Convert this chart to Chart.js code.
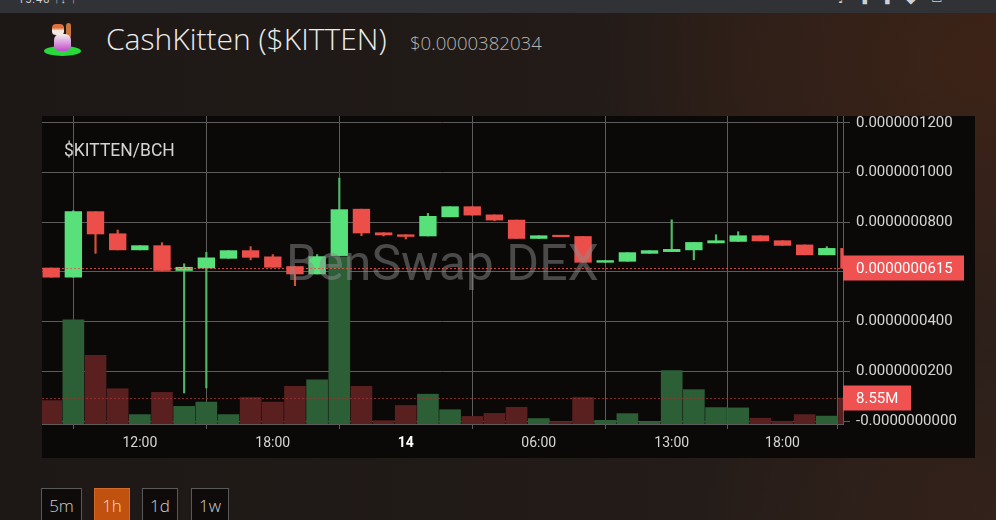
<!DOCTYPE html>
<html>
<head>
<meta charset="utf-8">
<title>CashKitten ($KITTEN)</title>
<script src="https://cdn.jsdelivr.net/npm/chart.js@4.4.1/dist/chart.umd.min.js"></script>
<style>
    html, body { margin: 0; padding: 0; width: 996px; height: 520px; overflow: hidden; }
    body {
        position: relative;
        font-family: 'Open Sans', 'Lato', sans-serif;
        background: radial-gradient(ellipse 420px 300px at 1000px 60px, #3d2317 0%, rgba(61,35,23,0) 100%),
                    radial-gradient(ellipse 300px 200px at 1000px 520px, #33211a 0%, rgba(51,33,26,0) 100%),
                    linear-gradient(90deg, #1d1816 0%, #221b18 60%, #2b1f1a 100%);
    }
    .status { position: absolute; left: 0; top: 0; width: 996px; height: 13px; background: #303236; overflow: hidden; }
    .status .time { position: absolute; left: 18px; top: -7px; font: 11px Roboto, sans-serif; color: #d0d0d0; letter-spacing: 1px; }
    .status .icons { position: absolute; left: 838px; top: -8px; font: 12px 'DejaVu Sans', sans-serif; color: #d0d0d0; letter-spacing: 6px; }
    .logo { position: absolute; left: 42px; top: 20px; width: 40px; height: 40px; }
    .logo .pad { position: absolute; left: 2px; top: 26px; width: 37px; height: 10px; border-radius: 50%; background: #27d93a; }
    .logo .tail { position: absolute; left: 24px; top: 3px; width: 5px; height: 15px; border-radius: 3px; background: #c8743a; }
    .logo .body { position: absolute; left: 12px; top: 14px; width: 17px; height: 17px; border-radius: 35% 35% 30% 30%; background: linear-gradient(#f4eef2, #c24ccb); }
    .logo .head { position: absolute; left: 10px; top: 4px; width: 12px; height: 11px; border-radius: 35%; background: linear-gradient(#e0703a 0%, #e0703a 35%, #f3e9e2 60%); }
    .title { position: absolute; left: 106px; top: 23px; font-size: 30px; line-height: 32px; font-weight: 300; color: #ececec; white-space: nowrap; }
    .price { position: absolute; left: 410px; top: 33px; font-size: 18.6px; line-height: 20px; font-weight: 300; color: #b4b4b4; white-space: nowrap; }
    .panel { position: absolute; left: 42px; top: 116px; width: 933px; height: 342px; background: #0b0908; }
    #chart { position: absolute; left: 42px; top: 108px; }
    .pair { position: absolute; left: 64px; top: 140px; font: 17.5px Roboto, sans-serif; color: #d4d4d4; }
    .btn { position: absolute; top: 488px; height: 40px; box-sizing: border-box; border: 1px solid #595959; background: #0e0b0a;
           color: #cfcfcf; font-size: 17px; font-weight: 300; line-height: 34px; text-align: center; }
    .btn.on { background: #c1510f; border-color: #cf6a2a; color: #f3dccd; }
</style>
</head>
<body>
<div class="status"><span class="time">15:48 ↑↓ ↑</span><span class="icons">♪ ▮ ▮ ◆ ▭</span></div>
<div class="logo"><div class="pad"></div><div class="tail"></div><div class="body"></div><div class="head"></div></div>
<div class="title">CashKitten ($KITTEN)</div>
<div class="price">$0.0000382034</div>
<div class="panel"></div>
<canvas id="chart" width="933" height="350"></canvas>
<div class="pair">$KITTEN/BCH</div>
<div class="btn" style="left:41px;width:41px;">5m</div>
<div class="btn on" style="left:94px;width:36px;">1h</div>
<div class="btn" style="left:142px;width:36px;">1d</div>
<div class="btn" style="left:191px;width:38px;">1w</div>

<script>
// Hourly candles (one hour without trades between 06:00 and 13:00)
const times = ['08:00', '09:00', '10:00', '11:00', '12:00', '13:00', '14:00', '15:00', '16:00', '17:00',
    '18:00', '19:00', '20:00', '21:00', '22:00', '23:00', '00:00', '01:00', '02:00', '03:00',
    '04:00', '05:00', '06:00', '08:00', '09:00', '10:00', '11:00', '12:00', '13:00', '14:00',
    '15:00', '16:00', '17:00', '18:00', '19:00', '20:00', '21:00'];

const open = [61.6e-9, 57.9e-9, 84.3e-9, 75.4e-9, 68.9e-9, 70.6e-9, 60.6e-9, 61.6e-9, 65.5e-9, 68.6e-9,
    66.1e-9, 62.2e-9, 59.2e-9, 66.6e-9, 85.3e-9, 75.8e-9, 75.0e-9, 74.5e-9, 82.2e-9, 86.3e-9,
    83.0e-9, 80.9e-9, 73.5e-9, 74.6e-9, 74.3e-9, 63.9e-9, 64.3e-9, 67.5e-9, 68.2e-9, 68.9e-9,
    71.7e-9, 72.3e-9, 74.6e-9, 72.6e-9, 70.9e-9, 66.9e-9, 69.5e-9];
const high = [61.6e-9, 84.7e-9, 84.3e-9, 76.9e-9, 70.6e-9, 71.8e-9, 63.3e-9, 67.9e-9, 68.6e-9, 70.2e-9,
    67.0e-9, 62.2e-9, 67.0e-9, 97.8e-9, 85.3e-9, 75.8e-9, 75.0e-9, 83.6e-9, 86.3e-9, 86.3e-9,
    83.0e-9, 80.9e-9, 74.6e-9, 74.6e-9, 74.3e-9, 64.6e-9, 67.8e-9, 68.6e-9, 81.0e-9, 71.9e-9,
    75.0e-9, 76.2e-9, 74.6e-9, 72.6e-9, 70.9e-9, 70.2e-9, 69.5e-9];
const low = [57.9e-9, 57.9e-9, 67.5e-9, 68.9e-9, 68.9e-9, 60.6e-9, 11.3e-9, 13.3e-9, 65.5e-9, 64.9e-9,
    61.9e-9, 54.5e-9, 59.2e-9, 66.6e-9, 74.6e-9, 74.5e-9, 73.3e-9, 74.5e-9, 82.2e-9, 82.9e-9,
    80.6e-9, 73.5e-9, 73.5e-9, 74.2e-9, 63.9e-9, 63.9e-9, 64.3e-9, 67.5e-9, 68.2e-9, 64.9e-9,
    71.7e-9, 72.3e-9, 72.5e-9, 70.7e-9, 66.9e-9, 66.9e-9, 61.5e-9];
const close = [57.9e-9, 84.3e-9, 75.3e-9, 68.9e-9, 70.6e-9, 60.6e-9, 61.9e-9, 65.7e-9, 68.6e-9, 65.9e-9,
    61.9e-9, 59.2e-9, 66.2e-9, 85.1e-9, 75.7e-9, 74.9e-9, 74.3e-9, 82.4e-9, 86.3e-9, 82.9e-9,
    80.9e-9, 73.5e-9, 74.6e-9, 74.2e-9, 63.9e-9, 64.6e-9, 67.8e-9, 68.6e-9, 69.1e-9, 71.9e-9,
    72.6e-9, 74.6e-9, 72.5e-9, 70.7e-9, 66.9e-9, 69.5e-9, 61.5e-9];
const volume = [7.7e6, 34.3e6, 22.6e6, 11.6e6, 3.1e6, 10.4e6, 5.8e6, 7.2e6, 3.1e6, 8.7e6,
    7.2e6, 12.4e6, 14.5e6, 55.0e6, 12.4e6, 1.1e6, 6.1e6, 9.8e6, 4.7e6, 2.5e6,
    3.5e6, 5.5e6, 1.8e6, 0.8e6, 8.7e6, 1.2e6, 3.4e6, 0.8e6, 17.6e6, 11.3e6,
    5.4e6, 5.3e6, 1.9e6, 0.9e6, 3.1e6, 2.6e6, 8.55e6];

// axis labels
const tickTimes = ['12:00', '18:00', '00:00', '06:00', '13:00', '18:00'];
const tickLabels = ['12:00', '18:00', '14', '06:00', '13:00', '18:00'];
const priceTicks = [0, 20e-9, 40e-9, 60e-9, 80e-9, 100e-9, 120e-9];

const UP = '#58e07b', DOWN = '#ec4f4a';
const UP_WICK = '#4fb866', DOWN_WICK = '#d5532f';
const UP_VOL = '#2c5f36', DOWN_VOL = '#5a1f1f';
const GRID = '#5c5c5c';

// find tick positions in order through the time list
const tickIdx = [];
let from = 0;
tickTimes.forEach(t => {
    const i = times.indexOf(t, from);
    tickIdx.push(i);
    from = i + 1;
});

const isUp = open.map((o, i) => close[i] >= o);
const lastPrice = close[close.length - 1];
const lastVol = volume[volume.length - 1];

const overlay = {
    id: 'overlay',
    afterDatasetsDraw(chart) {
        const { ctx, chartArea: a, scales } = chart;
        ctx.save();
        ctx.beginPath();
        ctx.rect(a.left, a.top, a.right - a.left, a.bottom - a.top);
        ctx.clip();
        // watermark
        ctx.font = '50px Roboto';
        ctx.fillStyle = 'rgba(140, 140, 140, 0.5)';
        ctx.textAlign = 'center';
        ctx.textBaseline = 'alphabetic';
        ctx.fillText('BenSwap DEX', (a.left + a.right) / 2, (a.top + a.bottom) / 2 + 10);
        // last price / last volume lines
        ctx.setLineDash([2, 2]);
        ctx.lineWidth = 1;
        const py = Math.round(scales.y.getPixelForValue(lastPrice)) + 0.5;
        ctx.strokeStyle = 'rgba(236, 79, 74, 0.85)';
        ctx.beginPath(); ctx.moveTo(a.left, py); ctx.lineTo(a.right, py); ctx.stroke();
        const vy = Math.round(scales.yv.getPixelForValue(lastVol)) + 0.5;
        ctx.strokeStyle = 'rgba(150, 50, 50, 0.85)';
        ctx.beginPath(); ctx.moveTo(a.left, vy); ctx.lineTo(a.right, vy); ctx.stroke();
        ctx.restore();
    },
    afterDraw(chart) {
        const { ctx, chartArea: a, scales } = chart;
        const boxes = [
            [scales.y.getPixelForValue(lastPrice), lastPrice.toFixed(10), 121],
            [scales.yv.getPixelForValue(lastVol), (lastVol / 1e6).toFixed(2) + 'M', 68]
        ];
        ctx.save();
        ctx.font = '15px Roboto';
        ctx.textAlign = 'left';
        ctx.textBaseline = 'middle';
        boxes.forEach(([y, text, w]) => {
            ctx.fillStyle = '#f05252';
            ctx.fillRect(a.right, Math.round(y) - 12.5, w, 25);
            ctx.fillStyle = '#ffffff';
            ctx.fillText(text, a.right + 13, y + 1);
        });
        ctx.restore();
    }
};

const chart = new Chart(document.getElementById('chart'), {
    type: 'bar',
    data: {
        datasets: [
            {
                label: 'Body',
                yAxisID: 'y',
                data: open.map((o, i) => ({ x: i, y: [Math.min(o, close[i]), Math.max(o, close[i])] })),
                backgroundColor: isUp.map(u => u ? UP : DOWN),
                barThickness: 16.7,
                minBarLength: 1.5,
                grouped: false,
                order: 1
            },
            {
                label: 'Wick',
                yAxisID: 'y',
                data: low.map((l, i) => ({ x: i, y: [l, high[i]] })),
                backgroundColor: isUp.map(u => u ? UP_WICK : DOWN_WICK),
                barThickness: 1.5,
                grouped: false,
                order: 2
            },
            {
                label: 'Volume',
                yAxisID: 'yv',
                data: volume.map((v, i) => ({ x: i, y: v })),
                backgroundColor: isUp.map(u => u ? UP_VOL : DOWN_VOL),
                barThickness: 21,
                grouped: false,
                order: 3
            }
        ]
    },
    options: {
        responsive: false,
        maintainAspectRatio: false,
        animation: false,
        layout: { padding: 0 },
        plugins: {
            legend: { display: false },
            tooltip: { enabled: false }
        },
        scales: {
            x: {
                type: 'linear',
                min: -0.415,
                max: 35.73,
                offset: false,
                afterBuildTicks: s => { s.ticks = tickIdx.map(v => ({ value: v })); },
                afterFit: s => { s.height = 34; },
                ticks: {
                    autoSkip: false,
                    maxRotation: 0,
                    padding: 6,
                    color: ctx => ctx.index === 2 ? '#ffffff' : '#d6d6d6',
                    font: ctx => ({ family: 'Roboto', size: 14, weight: ctx.index === 2 ? 'bold' : 'normal' }),
                    callback: (v, i) => tickLabels[i]
                },
                grid: { color: GRID, tickLength: 5 },
                border: { color: GRID }
            },
            y: {
                position: 'right',
                min: -1.2e-9,
                max: 122.8e-9,
                afterBuildTicks: s => { s.ticks = priceTicks.map(v => ({ value: v })); },
                afterFit: s => { s.width = 132; },
                ticks: {
                    padding: 6,
                    color: '#d6d6d6',
                    font: { family: 'Roboto', size: 15 },
                    callback: v => v === 0 ? '-0.0000000000' : v.toFixed(10)
                },
                grid: { color: GRID, tickLength: 7 },
                border: { color: GRID }
            },
            yv: {
                display: false,
                min: 0,
                max: 101.3e6
            }
        }
    },
    plugins: [overlay]
});

// line the plot area up with the dark panel (top at 116px, bottom at 424px)
const topGap = chart.chartArea.top;
const canvas = document.getElementById('chart');
canvas.style.top = (116 - topGap) + 'px';
chart.resize(933, 342 + topGap);
</script>
</body>
</html>
